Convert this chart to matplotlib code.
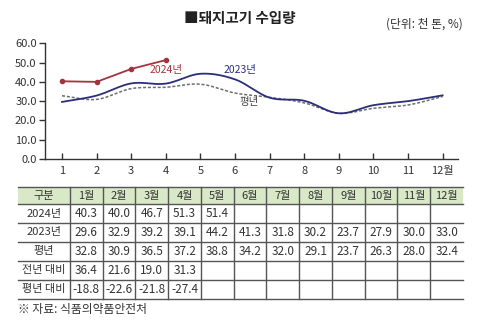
import matplotlib
matplotlib.use("Agg")
import matplotlib.pyplot as plt
import numpy as np

plt.rcParams['font.family'] = ['Noto Sans CJK KR', 'DejaVu Sans']

# 월별 돼지고기 수입량 (천 톤)
months = np.arange(1, 13)
imports_2024 = [40.3, 40.0, 46.7, 51.3, 51.4]
imports_2023 = [29.6, 32.9, 39.2, 39.1, 44.2, 41.3, 31.8, 30.2, 23.7, 27.9, 30.0, 33.0]
imports_avg = [32.8, 30.9, 36.5, 37.2, 38.8, 34.2, 32.0, 29.1, 23.7, 26.3, 28.0, 32.4]
yoy_change = [36.4, 21.6, 19.0, 31.3]
avg_change = [-18.8, -22.6, -21.8, -27.4]
# 그래프에는 4월까지만 표시
plot_2024 = imports_2024[:4]

row_labels = ["2024년", "2023년", "평년", "전년 대비", "평년 대비"]
col_labels = ["구분"] + [f"{m}월" for m in months]
xtick_labels = [str(m) for m in months[:-1]] + ["12월"]

C_2024 = "#a3343f"
C_2023 = "#2b2f7a"
C_AVG = "#6e6e6e"
NUM_FONT = ['Liberation Sans Narrow', 'Noto Sans CJK KR', 'DejaVu Sans']


def smooth(x, y, n=20):
    # Catmull-Rom 곡선으로 부드럽게 연결
    x = np.asarray(x, float)
    y = np.asarray(y, float)
    px = np.concatenate([[2 * x[0] - x[1]], x, [2 * x[-1] - x[-2]]])
    py = np.concatenate([[2 * y[0] - y[1]], y, [2 * y[-1] - y[-2]]])
    t = np.linspace(0, 1, n, endpoint=False)
    xs, ys = [], []
    for i in range(1, len(px) - 2):
        for p, out in ((px, xs), (py, ys)):
            p0, p1, p2, p3 = p[i - 1], p[i], p[i + 1], p[i + 2]
            out.extend(0.5 * (2 * p1 + (-p0 + p2) * t
                              + (2 * p0 - 5 * p1 + 4 * p2 - p3) * t ** 2
                              + (-p0 + 3 * p1 - 3 * p2 + p3) * t ** 3))
    xs.append(x[-1])
    ys.append(y[-1])
    return np.array(xs), np.array(ys)


W, H = 479, 325
fig = plt.figure(figsize=(W / 100, H / 100), dpi=100)

# 그래프 영역 (픽셀 기준 위치)
left, right, top, bottom = 45, 458, 43.3, 159
ax = fig.add_axes([left / W, 1 - bottom / H, (right - left) / W, (bottom - top) / H])
ax.set_ylim(0, 60)
ax.set_xlim(1 - (62 - left) / 34.6, 1 + (right - 62) / 34.6)

sx, sy = smooth(months, imports_avg)
ax.plot(sx, sy, color=C_AVG, lw=1.1, ls=(0, (2, 1.2)))
sx, sy = smooth(months, imports_2023)
ax.plot(sx, sy, color=C_2023, lw=1.3)
ax.plot(months[:4], plot_2024, color=C_2024, lw=1.3, marker="o", ms=3.0)

ax.text(4.0, 46.0, "2024년", color=C_2024, fontsize=7.5, ha="center", va="center")
ax.text(6.15, 46.0, "2023년", color=C_2023, fontsize=7.5, ha="center", va="center")
ax.text(6.4, 29.3, "평년", color="#444444", fontsize=7.5, ha="center", va="center")

ax.set_yticks(np.arange(0, 61, 10))
ax.set_yticklabels([f"{v:.1f}" for v in np.arange(0, 61, 10)], family=NUM_FONT)
ax.set_xticks(months)
ax.set_xticklabels(xtick_labels, family=NUM_FONT)
ax.tick_params(axis="y", direction="out", length=4, width=1, colors="#333333",
               labelsize=8, pad=2)
ax.tick_params(axis="x", direction="in", length=4, width=1, colors="#333333",
               labelsize=8, pad=5)
for s in ("top", "right"):
    ax.spines[s].set_visible(False)
for s in ("left", "bottom"):
    ax.spines[s].set_color("#333333")
    ax.spines[s].set_linewidth(1)

# 제목과 단위
fig.text(240 / W, 1 - 18 / H, "■돼지고기 수입량", fontsize=10.5, fontweight="bold",
         ha="center", va="center", color="#222222")
fig.text(463 / W, 1 - 24 / H, "(단위: 천 톤, %)", fontsize=8.5,
         ha="right", va="center", color="#333333")

# 표 영역: 픽셀 좌표계 축
tb = fig.add_axes([0, 0, 1, 1])
tb.set_xlim(0, W)
tb.set_ylim(H, 0)
tb.axis("off")

t_left, t_lab, t_right = 18, 70, 463
row_y = [186.7, 204.3, 223, 241.8, 260.6, 279.6, 298.5]
col_w = (t_right - t_lab) / 12
col_x = [t_left, t_lab] + [t_lab + col_w * (i + 1) for i in range(12)]

tb.fill_between([t_left, t_right], row_y[0], row_y[1], color="#d9e8c6", lw=0)
for y in row_y:
    tb.plot([t_left, t_right], [y, y], color="#555555", lw=1)
for x in col_x[1:-1]:
    tb.plot([x, x], [row_y[0], row_y[-1]], color="#555555", lw=1)

rows = [imports_2024, imports_2023, imports_avg, yoy_change, avg_change]
for j, lab in enumerate(col_labels):
    cx = (col_x[j] + col_x[j + 1]) / 2
    tb.text(cx, (row_y[0] + row_y[1]) / 2, lab, fontsize=8, ha="center",
            va="center", color="#333333", family=NUM_FONT)
for i, (lab, vals) in enumerate(zip(row_labels, rows)):
    cy = (row_y[i + 1] + row_y[i + 2]) / 2
    tb.text((col_x[0] + col_x[1]) / 2, cy, lab, fontsize=8, ha="center",
            va="center", color="#333333", family=NUM_FONT)
    for j, v in enumerate(vals):
        cx = (col_x[j + 1] + col_x[j + 2]) / 2
        tb.text(cx, cy, f"{v:.1f}", fontsize=8.5,
                ha="center", va="center", color="#333333", family=NUM_FONT)

tb.text(18, 310, "※ 자료: 식품의약품안전처", fontsize=8.5, ha="left", va="center",
        color="#333333")

fig.savefig("out.png", dpi=100)
